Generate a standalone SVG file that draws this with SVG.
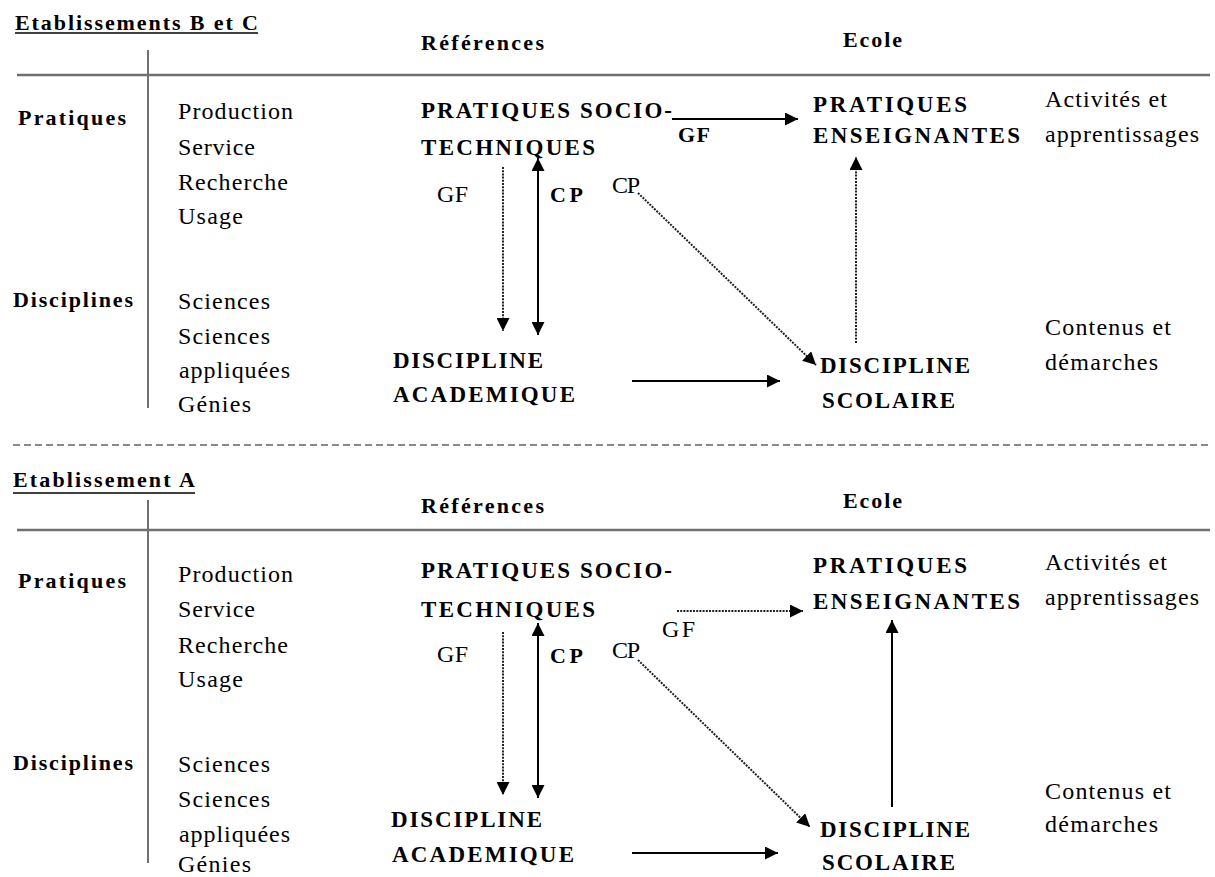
<svg xmlns="http://www.w3.org/2000/svg" width="1215" height="877" viewBox="0 0 1215 877">
<style>
  text { font-family: "Liberation Serif", "Times New Roman", serif; fill: #000; }
  .n { font-size: 24px; }
  .nb { font-size: 22px; font-weight: bold; }
  .cap { font-size: 23px; font-weight: bold; }
  .hdr { font-size: 22px; font-weight: bold; }
  .rule { stroke: #707070; stroke-width: 2.5; fill: none; }
  .vrule { stroke: #707070; stroke-width: 2; fill: none; }
  .sep { stroke: #8a8a8a; stroke-width: 2; stroke-dasharray: 7 4; fill: none; }
  .ul { stroke: #000; stroke-width: 1.5; }
  .solid { stroke: #000; stroke-width: 2; fill: none; }
  .dot { stroke: #222; stroke-width: 2; stroke-dasharray: 2 1.2; fill: none; }
</style>
<defs>
  <marker id="ah" markerUnits="userSpaceOnUse" markerWidth="14" markerHeight="13" refX="13" refY="6.5" orient="auto-start-reverse" viewBox="0 0 14 13">
    <path d="M0,0 L13,6.5 L0,13 z" fill="#000"/>
  </marker>
</defs>
<rect width="1215" height="877" fill="#fff"/>

<!-- ===== Section 1 : Etablissements B et C ===== -->
<g id="title-bc">
  <text class="hdr" x="15" y="30" textLength="243" lengthAdjust="spacing">Etablissements B et C</text>
  <line class="ul" x1="15" y1="33" x2="258" y2="33"/>
</g>
<g id="frame-bc">
  <line class="rule" x1="17" y1="75" x2="1210" y2="75"/>
  <line class="vrule" x1="148" y1="50" x2="148" y2="408"/>
</g>
<g id="head-bc">
  <text class="hdr" x="421" y="50" textLength="123" lengthAdjust="spacing">Références</text>
  <text class="hdr" x="843" y="47" textLength="59" lengthAdjust="spacing">Ecole</text>
</g>
<g id="rowlabels-bc">
  <text class="nb" x="18" y="125" textLength="108" lengthAdjust="spacing">Pratiques</text>
  <text class="nb" x="13" y="307" textLength="120" lengthAdjust="spacing">Disciplines</text>
</g>
<g id="pratiques-list-bc">
  <text class="n" x="178" y="119" textLength="115" lengthAdjust="spacing">Production</text>
  <text class="n" x="178" y="155" textLength="77" lengthAdjust="spacing">Service</text>
  <text class="n" x="178" y="190" textLength="110" lengthAdjust="spacing">Recherche</text>
  <text class="n" x="178" y="224" textLength="65" lengthAdjust="spacing">Usage</text>
</g>
<g id="disciplines-list-bc">
  <text class="n" x="178" y="309" textLength="92" lengthAdjust="spacing">Sciences</text>
  <text class="n" x="178" y="344" textLength="92" lengthAdjust="spacing">Sciences</text>
  <text class="n" x="179" y="378" textLength="111" lengthAdjust="spacing">appliquées</text>
  <text class="n" x="178" y="412" textLength="73" lengthAdjust="spacing">Génies</text>
</g>
<g id="pst-bc">
  <text class="cap" x="421" y="118" textLength="251" lengthAdjust="spacing">PRATIQUES SOCIO-</text>
  <text class="cap" x="421" y="155" textLength="174" lengthAdjust="spacing">TECHNIQUES</text>
</g>
<g id="pe-bc">
  <text class="cap" x="813" y="112" textLength="154" lengthAdjust="spacing">PRATIQUES</text>
  <text class="cap" x="813" y="143" textLength="207" lengthAdjust="spacing">ENSEIGNANTES</text>
</g>
<g id="da-bc">
  <text class="cap" x="393" y="368" textLength="150" lengthAdjust="spacing">DISCIPLINE</text>
  <text class="cap" x="393" y="402" textLength="182" lengthAdjust="spacing">ACADEMIQUE</text>
</g>
<g id="ds-bc">
  <text class="cap" x="820" y="373" textLength="150" lengthAdjust="spacing">DISCIPLINE</text>
  <text class="cap" x="822" y="408" textLength="133" lengthAdjust="spacing">SCOLAIRE</text>
</g>
<g id="right-bc">
  <text class="n" x="1045" y="107" textLength="122" lengthAdjust="spacing">Activités et</text>
  <text class="n" x="1045" y="142" textLength="154" lengthAdjust="spacing">apprentissages</text>
  <text class="n" x="1045" y="335" textLength="126" lengthAdjust="spacing">Contenus et</text>
  <text class="n" x="1045" y="370" textLength="113" lengthAdjust="spacing">démarches</text>
</g>
<g id="labels-bc">
  <text class="nb" x="678" y="142" textLength="32" lengthAdjust="spacing">GF</text>
  <text class="n" x="437" y="202" textLength="31" lengthAdjust="spacing">GF</text>
  <text class="nb" x="550" y="202" textLength="33" lengthAdjust="spacing">CP</text>
  <text class="n" x="612" y="193" textLength="28" lengthAdjust="spacing">CP</text>
</g>

<!-- separator -->
<line id="separator" class="sep" x1="13" y1="445" x2="1210" y2="445"/>

<!-- ===== Section 2 : Etablissement A ===== -->
<g id="title-a">
  <text class="hdr" x="13" y="487" textLength="182" lengthAdjust="spacing">Etablissement A</text>
  <line class="ul" x1="13" y1="493" x2="195" y2="493"/>
</g>
<g id="frame-a">
  <line class="rule" x1="17" y1="530" x2="1210" y2="530"/>
  <line class="vrule" x1="148" y1="500" x2="148" y2="863"/>
</g>
<g id="head-a">
  <text class="hdr" x="421" y="513" textLength="123" lengthAdjust="spacing">Références</text>
  <text class="hdr" x="843" y="508" textLength="59" lengthAdjust="spacing">Ecole</text>
</g>
<g id="rowlabels-a">
  <text class="nb" x="18" y="588" textLength="108" lengthAdjust="spacing">Pratiques</text>
  <text class="nb" x="13" y="770" textLength="120" lengthAdjust="spacing">Disciplines</text>
</g>
<g id="pratiques-list-a">
  <text class="n" x="178" y="582" textLength="115" lengthAdjust="spacing">Production</text>
  <text class="n" x="178" y="617" textLength="77" lengthAdjust="spacing">Service</text>
  <text class="n" x="178" y="653" textLength="110" lengthAdjust="spacing">Recherche</text>
  <text class="n" x="178" y="687" textLength="65" lengthAdjust="spacing">Usage</text>
</g>
<g id="disciplines-list-a">
  <text class="n" x="178" y="772" textLength="92" lengthAdjust="spacing">Sciences</text>
  <text class="n" x="178" y="807" textLength="92" lengthAdjust="spacing">Sciences</text>
  <text class="n" x="179" y="842" textLength="111" lengthAdjust="spacing">appliquées</text>
  <text class="n" x="178" y="872" textLength="73" lengthAdjust="spacing">Génies</text>
</g>
<g id="pst-a">
  <text class="cap" x="421" y="578" textLength="251" lengthAdjust="spacing">PRATIQUES SOCIO-</text>
  <text class="cap" x="421" y="617" textLength="174" lengthAdjust="spacing">TECHNIQUES</text>
</g>
<g id="pe-a">
  <text class="cap" x="813" y="573" textLength="154" lengthAdjust="spacing">PRATIQUES</text>
  <text class="cap" x="813" y="609" textLength="207" lengthAdjust="spacing">ENSEIGNANTES</text>
</g>
<g id="da-a">
  <text class="cap" x="391" y="827" textLength="151" lengthAdjust="spacing">DISCIPLINE</text>
  <text class="cap" x="392" y="862" textLength="182" lengthAdjust="spacing">ACADEMIQUE</text>
</g>
<g id="ds-a">
  <text class="cap" x="820" y="837" textLength="150" lengthAdjust="spacing">DISCIPLINE</text>
  <text class="cap" x="822" y="870" textLength="133" lengthAdjust="spacing">SCOLAIRE</text>
</g>
<g id="right-a">
  <text class="n" x="1045" y="570" textLength="122" lengthAdjust="spacing">Activités et</text>
  <text class="n" x="1045" y="605" textLength="154" lengthAdjust="spacing">apprentissages</text>
  <text class="n" x="1045" y="799" textLength="126" lengthAdjust="spacing">Contenus et</text>
  <text class="n" x="1045" y="832" textLength="113" lengthAdjust="spacing">démarches</text>
</g>
<g id="labels-a">
  <text class="n" x="662" y="637" textLength="33" lengthAdjust="spacing">GF</text>
  <text class="n" x="437" y="662" textLength="31" lengthAdjust="spacing">GF</text>
  <text class="nb" x="550" y="663" textLength="33" lengthAdjust="spacing">CP</text>
  <text class="n" x="612" y="658" textLength="28" lengthAdjust="spacing">CP</text>
</g>

<!-- ===== Connectors ===== -->
<g id="connectors">
  <!-- section B et C -->
  <line class="solid" x1="672" y1="119" x2="798" y2="119" marker-end="url(#ah)"/>
  <line class="dot" x1="503" y1="167" x2="503" y2="331" marker-end="url(#ah)"/>
  <line class="solid" x1="538" y1="158" x2="538" y2="335" marker-start="url(#ah)" marker-end="url(#ah)"/>
  <line class="dot" x1="638" y1="193" x2="816" y2="365" marker-end="url(#ah)"/>
  <line class="solid" x1="632" y1="381" x2="780" y2="381" marker-end="url(#ah)"/>
  <line class="dot" x1="856" y1="343" x2="856" y2="157" marker-end="url(#ah)"/>
  <!-- section A -->
  <line class="dot" x1="677" y1="611" x2="803" y2="611" marker-end="url(#ah)"/>
  <line class="dot" x1="503" y1="632" x2="503" y2="795" marker-end="url(#ah)"/>
  <line class="solid" x1="538" y1="623" x2="538" y2="798" marker-start="url(#ah)" marker-end="url(#ah)"/>
  <line class="dot" x1="638" y1="660" x2="810" y2="827" marker-end="url(#ah)"/>
  <line class="solid" x1="632" y1="853" x2="778" y2="853" marker-end="url(#ah)"/>
  <line class="solid" x1="892" y1="807" x2="892" y2="620" marker-end="url(#ah)"/>
</g>
</svg>
